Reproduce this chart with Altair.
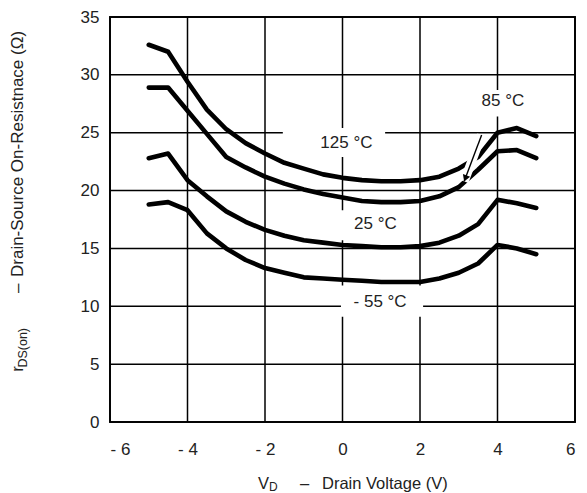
import altair as alt
import pandas as pd

# ---- data ----
vd = [-5, -4.5, -4, -3.5, -3, -2.5, -2, -1.5, -1, -0.5, 0, 0.5, 1, 1.5, 2, 2.5, 3, 3.5, 4, 4.5, 5]
r_125 = [32.6, 32.0, 29.4, 27.0, 25.3, 24.1, 23.2, 22.4, 21.9, 21.4, 21.1, 20.9, 20.8, 20.8, 20.9, 21.2, 21.9, 22.9, 25.0, 25.4, 24.7]
r_85 = [28.9, 28.9, 26.9, 24.9, 22.9, 22.0, 21.2, 20.6, 20.1, 19.7, 19.4, 19.1, 19.0, 19.0, 19.1, 19.5, 20.3, 21.8, 23.4, 23.5, 22.8]
r_25 = [22.8, 23.2, 20.9, 19.5, 18.2, 17.3, 16.6, 16.1, 15.7, 15.5, 15.3, 15.2, 15.1, 15.1, 15.2, 15.5, 16.1, 17.1, 19.2, 18.9, 18.5]
r_m55 = [18.8, 19.0, 18.3, 16.3, 15.0, 14.0, 13.3, 12.9, 12.5, 12.4, 12.3, 12.2, 12.1, 12.1, 12.1, 12.4, 12.9, 13.7, 15.3, 15.0, 14.5]
series_names = ["125 °C", "85 °C", "25 °C", "- 55 °C"]

x_ticks = [-6, -4, -2, 0, 2, 4, 6]
y_ticks = [0, 5, 10, 15, 20, 25, 30, 35]

# curve labels (data coordinates) and their white backings
label_text = ["125 °C", "85 °C", "25 °C", "- 55 °C"]
label_x = [0.1, 4.14, 0.85, 0.97]
label_y = [24.1, 27.7, 17.1, 10.4]
box_left = [-1.54, 3.3, -0.05, -0.04]
box_right = [1.10, 5.0, 1.75, 2.08]
box_bottom = [22.9, 26.4, 15.7, 9.1]
box_top = [25.4, 28.7, 18.3, 11.8]

# arrow pointing to the 85 °C curve
arrow_x = [3.59, 3.14]
arrow_y = [24.8, 20.8]
head_x = [3.17]
head_y = [21.05]

rows = []
for name, vals in zip(series_names, [r_125, r_85, r_25, r_m55]):
    for xv, yv in zip(vd, vals):
        rows.append({"vd": xv, "r": yv, "s": name})
df = pd.DataFrame(rows)

labels_df = pd.DataFrame({"t": label_text, "lx": label_x, "ly": label_y})
boxes_df = pd.DataFrame({"bl": box_left, "br": box_right, "bb": box_bottom, "bt": box_top})
arrow_df = pd.DataFrame({"ax": arrow_x, "ay": arrow_y, "o": [0, 1]})
head_df = pd.DataFrame({"hx": head_x, "hy": head_y})
xgrid_df = pd.DataFrame({"gx": x_ticks})
ygrid_df = pd.DataFrame({"gy": y_ticks})

FONT = "Liberation Sans"
TXT = "#222222"
GRID = "#000000"

xscale = alt.Scale(domain=[-6, 6], nice=False, zero=False)
yscale = alt.Scale(domain=[0, 35], nice=False, zero=False)

xaxis = alt.Axis(values=x_ticks, title=None, grid=False, ticks=False, domain=False,
                 labelExpr="datum.value < 0 ? '- ' + abs(datum.value) : '' + datum.value",
                 labelPadding=19, labelFont=FONT, labelFontSize=17, labelColor=TXT)
yaxis = alt.Axis(values=y_ticks, title=None, grid=False, ticks=False, domain=False,
                 labelPadding=11, labelFont=FONT, labelFontSize=17, labelColor=TXT)

# grid lines
xgrid = alt.Chart(xgrid_df).mark_rule(color=GRID, strokeWidth=1.5).encode(
    x=alt.X("gx:Q", scale=xscale, axis=xaxis)
)
ygrid = alt.Chart(ygrid_df).mark_rule(color=GRID, strokeWidth=1.5).encode(
    y=alt.Y("gy:Q", scale=yscale, axis=yaxis)
)

boxes = alt.Chart(boxes_df).mark_rect(color="#ffffff", opacity=1).encode(
    x=alt.X("bl:Q", scale=xscale, axis=xaxis),
    x2=alt.X2("br"),
    y=alt.Y("bb:Q", scale=yscale, axis=yaxis),
    y2=alt.Y2("bt"),
)

curves = alt.Chart(df).mark_line(color="#000000", strokeWidth=4.6, strokeJoin="round", strokeCap="round").encode(
    x=alt.X("vd:Q", scale=xscale, axis=xaxis),
    y=alt.Y("r:Q", scale=yscale, axis=yaxis),
    detail="s:N",
)

halo = alt.Chart(arrow_df).mark_line(color="#ffffff", strokeWidth=9, strokeCap="butt").encode(
    x=alt.X("ax:Q", scale=xscale, axis=xaxis), y=alt.Y("ay:Q", scale=yscale, axis=yaxis), order="o:Q"
)
arrow = alt.Chart(arrow_df).mark_line(color="#000000", strokeWidth=1.4).encode(
    x=alt.X("ax:Q", scale=xscale, axis=xaxis), y=alt.Y("ay:Q", scale=yscale, axis=yaxis), order="o:Q"
)
head = alt.Chart(head_df).mark_point(shape="triangle-down", filled=True, color="#000000",
                                     size=60, angle=21, opacity=1).encode(
    x=alt.X("hx:Q", scale=xscale, axis=xaxis), y=alt.Y("hy:Q", scale=yscale, axis=yaxis)
)

labels = alt.Chart(labels_df).mark_text(font=FONT, fontSize=17, color=TXT,
                                        align="center", baseline="middle").encode(
    x=alt.X("lx:Q", scale=xscale, axis=xaxis), y=alt.Y("ly:Q", scale=yscale, axis=yaxis), text="t:N"
)

one = pd.DataFrame({"k": [0]})

def txt(s, px, py, size=17, angle=0, align="left"):
    kw = dict(text=s, font=FONT, fontSize=size, color=TXT, align=align, baseline="alphabetic")
    if angle:
        kw["angle"] = angle
    return alt.Chart(one).mark_text(**kw).encode(x=alt.value(px), y=alt.value(py))

# y-axis title with subscript (rotated)
yt = [
    txt("r", -86.7, 349, 17, 270, "right"),
    txt("DS(on)", -83.2, 311, 12.5, 270, "right"),
    txt("–", -86.7, 276, 17, 270, "left"),
    txt("Drain-Source On-Resistnace (Ω)", -86.7, 260, 17, 270, "left"),
]
# x-axis title with subscript
xt = [
    txt("V", 148, 472, 16.5),
    txt("D", 159, 474, 12),
    txt("–", 190, 472, 16.5),
    txt("Drain Voltage (V)", 212, 472, 16.5),
]

chart = alt.layer(xgrid, ygrid, boxes, curves, halo, arrow, head, labels, *yt, *xt).properties(
    width=465, height=405,
    autosize=alt.AutoSizeParams(type="none"),
    padding={"left": 110, "top": 17, "right": 12, "bottom": 71},
).configure_view(
    stroke="#111111", strokeWidth=2
)

chart.save("out.html", embed_options={"renderer": "svg", "actions": False})
